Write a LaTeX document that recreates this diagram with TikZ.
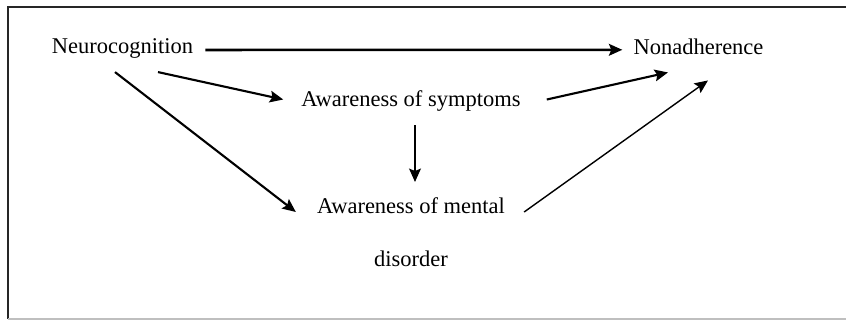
\documentclass[tikz,border=0pt]{standalone}
\usepackage{fontspec}
\setmainfont{Liberation Serif}
\usetikzlibrary{arrows.meta, calc}

\tikzset{
  label/.style={inner sep=0pt, font=\fontsize{19.2}{46}\selectfont},
  arr/.style={-{Stealth[length=4mm, width=3.5mm, inset=0.7mm]}, line width=1.8pt}
}

\begin{document}
\begin{tikzpicture}[x=0.03cm, y=-0.03cm]
\useasboundingbox (0,0) rectangle (846,320);

% Frame
\draw[line width=2pt, black!85] (846,7) -- (8,7) -- (8,319);
\draw[line width=1pt, black!25] (8,319) -- (846,319);

% Variables
\node[label, anchor=base] (neuro) at (122.5,54) {Neurocognition};
\node[label, anchor=base] (nonadh) at (698.5,55) {Nonadherence};
\node[label, anchor=base] (aos) at (411,107) {Awareness of symptoms};
\node[label, anchor=north, align=center] (aomd) at (411,197) {Awareness of mental\\disorder};

% Paths
\draw[arr, line width=2.2pt] ($(neuro.east)+(12,1)$) -- ($(nonadh.west)+(-11,2.5)$);
\draw[arr] ($(neuro.south)+(35.5,13)$) -- ($(aos.west)+(-18,-2)$);
\draw[arr] ($(neuro.south)+(-7.5,13)$) -- ($(aomd.north west)+(-21,15)$);
\draw[arr] ($(aos.south)+(4,13)$) -- ($(aomd.north)+(4,-15)$);
\draw[arr] ($(aos.east)+(26,-2)$) -- ($(nonadh.south)+(-30.5,17)$);
\draw[arr, line width=1.2pt] ($(aomd.north east)+(19,15)$) -- ($(nonadh.south)+(9.5,25)$);
\end{tikzpicture}
\end{document}
